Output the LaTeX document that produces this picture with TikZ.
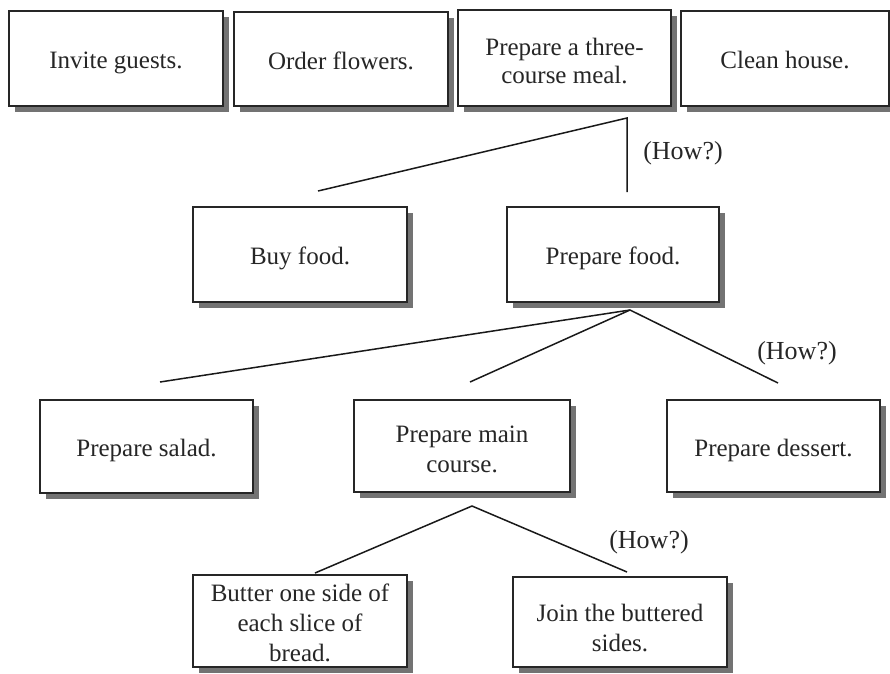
\documentclass[tikz,border=0pt]{standalone}
\usepackage{fontspec}
\setmainfont{Liberation Serif}
\usetikzlibrary{shadows}
\begin{document}
\begin{tikzpicture}[x=1pt,y=-1pt,
  task/.style={draw=black!85, line width=1.5pt, fill=white, rectangle,
    inner sep=0pt, align=center, text=black!85,
    font=\fontsize{25}{28}\selectfont,
    execute at begin node=\rule{0pt}{26pt},
    execute at end node=\rule[-6pt]{0pt}{6pt},
    drop shadow={shadow xshift=6pt, shadow yshift=-6pt, fill=black!55, opacity=1}},
  % multi-line boxes: a tall strut sets where the block of lines sits
  textdrop/.style={execute at begin node=\rule{0pt}{#1}},
  widelines/.style={font=\fontsize{25}{30}\selectfont},
  branch/.style={draw=black!90, line width=1.5pt},
  howlabel/.style={font=\fontsize{26}{28}\selectfont, text=black!85}]
\useasboundingbox (0,0) rectangle (890,673);

% top level: tasks for the dinner party
\node[task, minimum width=214pt, minimum height=95pt] (invite) at (116,58.5) {Invite guests.};
\node[task, minimum width=214pt, minimum height=94pt] (flowers) at (341,59) {Order flowers.};
\node[task, textdrop=57pt, minimum width=213pt, minimum height=96pt] (meal) at (564.5,58) {Prepare a three-\\course meal.};
\node[task, minimum width=208pt, minimum height=95pt] (clean) at (785,58.5) {Clean house.};

% second level
\node[task, minimum width=214pt, minimum height=95pt] (buy) at (300,254.5) {Buy food.};
\node[task, minimum width=212pt, minimum height=95pt] (prepfood) at (613,254.5) {Prepare food.};

% third level
\node[task, minimum width=213pt, minimum height=93pt] (salad) at (146.5,446.5) {Prepare salad.};
\node[task, widelines, textdrop=58pt, minimum width=216pt, minimum height=92pt] (maincourse) at (462,446) {Prepare main\\course.};
\node[task, minimum width=213pt, minimum height=92pt] (dessert) at (773.5,446) {Prepare dessert.};

% fourth level
\node[task, widelines, textdrop=86pt, minimum width=214pt, minimum height=92pt] (butter) at (300,621) {Butter one side of\\each slice of\\bread.};
\node[task, widelines, textdrop=64pt, minimum width=214pt, minimum height=90pt] (join) at (620,622) {Join the buttered\\sides.};

% branch points and free ends of the tree lines
\coordinate (mealroot) at (627,118);
\coordinate (buytop) at (318,191);
\coordinate (preptop) at (627,192);
\coordinate (foodroot) at (630,310);
\coordinate (saladtop) at (160,382);
\coordinate (maintop) at (470,382);
\coordinate (desserttop) at (778,383);
\coordinate (mainroot) at (472,506);
\coordinate (buttertop) at (315,573);
\coordinate (jointop) at (627,572);

\draw[branch] (buytop) -- (mealroot) -- (preptop);
\draw[branch] (saladtop) -- (foodroot) -- (desserttop);
\draw[branch] (maintop) -- (foodroot);
\draw[branch] (buttertop) -- (mainroot) -- (jointop);

\node[howlabel] (how1) at (683,153) {(How?)};
\node[howlabel] (how2) at (797,353) {(How?)};
\node[howlabel] (how3) at (649,542) {(How?)};
\end{tikzpicture}
\end{document}
